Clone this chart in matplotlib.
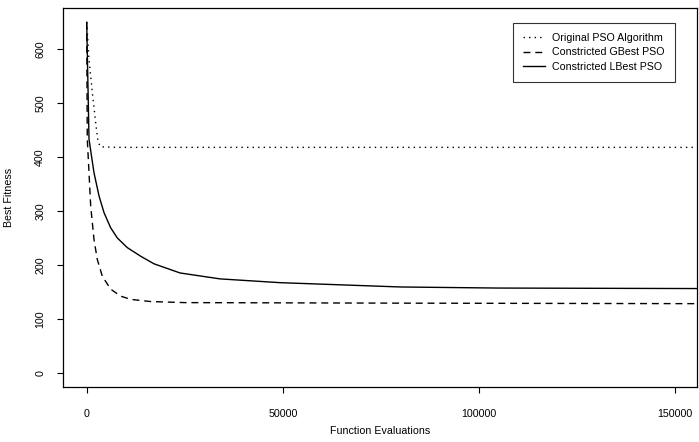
import matplotlib.pyplot as plt

plt.rcParams['font.family'] = ['Liberation Sans', 'DejaVu Sans']

# Best fitness vs function evaluations
orig_evals = [0, 600, 1450, 2300, 2900, 3500, 8000, 160000]
orig_fit = [650, 580, 519, 463, 428, 419, 418, 418]

gbest_evals = [0, 150, 590, 1020, 1860, 2700, 3980, 6100, 8670, 11200,
               16300, 25000, 80000, 160000]
gbest_fit = [650, 433, 371, 309, 247, 210, 179, 155, 142, 136,
             132, 130, 129, 128]

lbest_evals = [0, 590, 1860, 3140, 4410, 6100, 7800, 10350, 13770, 17160,
               23800, 34000, 49300, 80000, 105000, 160000]
lbest_fit = [650, 433, 371, 328, 297, 269, 250, 232, 216, 202,
             185, 174, 167, 159, 157, 156]

x_ticks = [0, 50000, 100000, 150000]
y_ticks = [0, 100, 200, 300, 400, 500, 600]

W, H = 699, 442
fig = plt.figure(figsize=(W / 100, H / 100), dpi=100)
# plot box in pixels: left 62.5, right 697, top 8.3, bottom 386.7
ax = fig.add_axes([62.5 / W, 1 - 386.7 / H, (697 - 62.5) / W, (386.7 - 8.3) / H])

ax.plot(orig_evals, orig_fit, color='black', lw=1.0, linestyle=(0, (1, 3)),
        label='Original PSO Algorithm')
ax.plot(gbest_evals, gbest_fit, color='black', lw=1.0, linestyle=(0, (5, 3.5)),
        label='Constricted GBest PSO')
ax.plot(lbest_evals, lbest_fit, color='black', lw=1.0, linestyle='-',
        label='Constricted LBest PSO')

ax.set_xlim(-6170, 155600)
ax.set_ylim(-26, 676)
ax.set_xticks(x_ticks)
ax.set_yticks(y_ticks)
ax.set_xticklabels([str(t) for t in x_ticks])
ax.set_yticklabels([str(t) for t in y_ticks], rotation=90, va='center')
ax.tick_params(axis='both', direction='out', length=4.5, width=0.8,
               labelsize=7.7, colors='black')
ax.tick_params(axis='x', pad=11.5)
ax.tick_params(axis='y', pad=8)

for s in ax.spines.values():
    s.set_linewidth(0.9)
    s.set_color('black')

ax.set_xlabel('Function Evaluations', fontsize=7.7)
ax.set_ylabel('Best Fitness', fontsize=7.7)
ax.xaxis.set_label_coords(0.5, (386.7 - 426) / 378.4)
ax.yaxis.set_label_coords((14 - 62.5) / 634.5, 0.5)

leg = ax.legend(loc='upper right', bbox_to_anchor=(0.9653, 0.9611),
                borderaxespad=0, fontsize=7.7, fancybox=False, frameon=True,
                handlelength=2.05, handletextpad=0.65, borderpad=0.95,
                labelspacing=0.4)
leg.get_frame().set_edgecolor('black')
leg.get_frame().set_linewidth(0.8)

fig.savefig('out.png', dpi=100)
